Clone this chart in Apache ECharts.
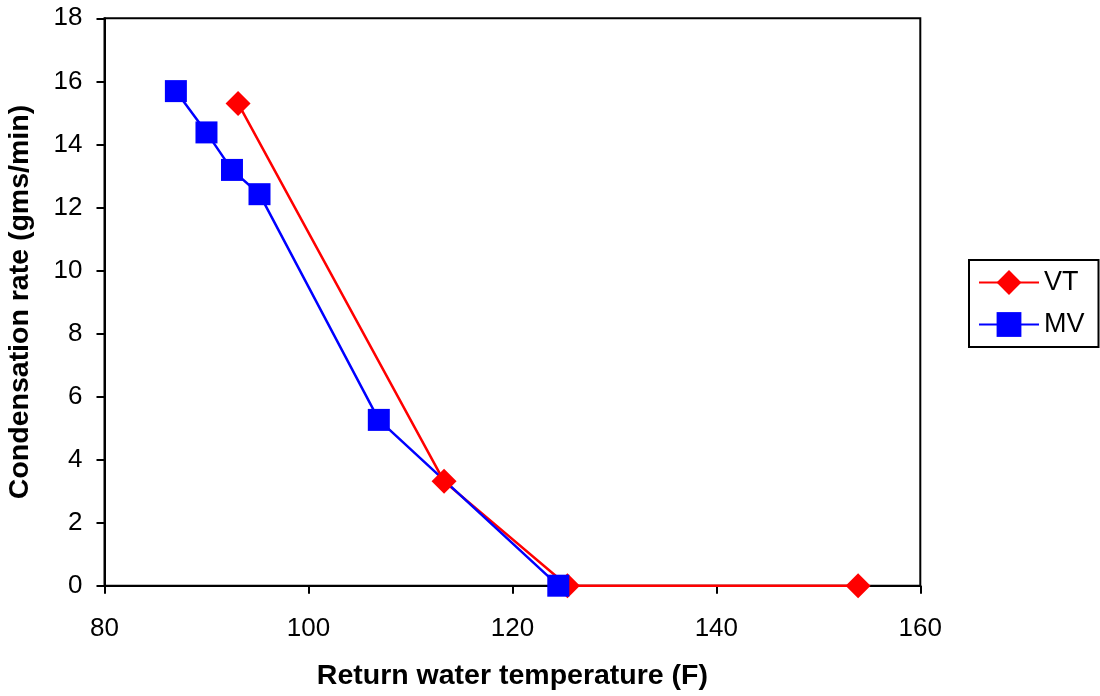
<!DOCTYPE html>
<html>
<head>
<meta charset="utf-8">
<style>
  html, body { margin: 0; padding: 0; background: #fff; }
  #chart { width: 1100px; height: 696px; }
</style>
<script src="https://cdn.jsdelivr.net/npm/echarts@6/dist/echarts.min.js"></script>
</head>
<body>
<div id="chart"></div>
<script>
// VT series (return water temperature, condensation rate)
const vtTemp = [93.1, 113.3, 125.4, 153.9]
const vtRate = [15.3, 3.31, 0, 0]
// MV series
const mvTemp = [87.0, 90.0, 92.5, 95.2, 106.9, 124.5]
const mvRate = [15.69, 14.38, 13.19, 12.42, 5.26, 0]

const seriesNames = ['VT', 'MV']

const font = 'Arial, "Liberation Sans", sans-serif'

function pairs(xs, ys) {
  return xs.map((x, i) => [x, ys[i]])
}

const chart = echarts.init(document.getElementById('chart'))

chart.setOption({
  animation: false,
  backgroundColor: '#fff',
  textStyle: { fontFamily: font, color: '#000' },
  grid: {
    left: 104.5,
    top: 18.3,
    right: 179.7,
    bottom: 110.3,
    outerBoundsMode: 'none',
    show: true,
    borderColor: '#000',
    borderWidth: 2,
    backgroundColor: '#fff'
  },
  legend: {
    orient: 'vertical',
    left: 969,
    top: 260,
    padding: [9, 14, 9, 9],
    itemGap: 15,
    itemWidth: 60,
    itemHeight: 31,
    borderColor: '#000',
    borderWidth: 2,
    textStyle: { fontFamily: font, fontSize: 27, color: '#000' },
    data: seriesNames
  },
  xAxis: {
    type: 'value',
    min: 80,
    max: 160,
    interval: 20,
    name: 'Return water temperature (F)',
    nameLocation: 'middle',
    nameGap: 76,
    nameTextStyle: { fontFamily: font, fontSize: 28.5, fontWeight: 'bold', color: '#000' },
    axisLine: { lineStyle: { color: '#000', width: 2 } },
    axisTick: { show: true, inside: false, length: 8, lineStyle: { color: '#000', width: 2 } },
    axisLabel: { fontFamily: font, fontSize: 26, color: '#000', margin: 30 },
    splitLine: { show: false }
  },
  yAxis: {
    type: 'value',
    min: 0,
    max: 18,
    interval: 2,
    name: 'Condensation rate (gms/min)',
    nameLocation: 'middle',
    nameGap: 69.5,
    nameTextStyle: { fontFamily: font, fontSize: 28.5, fontWeight: 'bold', color: '#000' },
    axisLine: { lineStyle: { color: '#000', width: 2 } },
    axisTick: { show: true, inside: false, length: 8, lineStyle: { color: '#000', width: 2 } },
    axisLabel: { fontFamily: font, fontSize: 26, color: '#000', margin: 22 },
    splitLine: { show: false }
  },
  series: [
    {
      name: 'VT',
      type: 'line',
      z: 2,
      symbol: 'diamond',
      symbolSize: 25,
      color: '#ff0000',
      lineStyle: { color: '#ff0000', width: 2.5 },
      itemStyle: { color: '#ff0000' },
      data: pairs(vtTemp, vtRate)
    },
    {
      name: 'MV',
      type: 'line',
      z: 2,
      symbol: 'rect',
      symbolSize: 22,
      color: '#0000ff',
      lineStyle: { color: '#0000ff', width: 2.5 },
      itemStyle: { color: '#0000ff' },
      data: pairs(mvTemp, mvRate)
    }
  ]
})
</script>
</body>
</html>
